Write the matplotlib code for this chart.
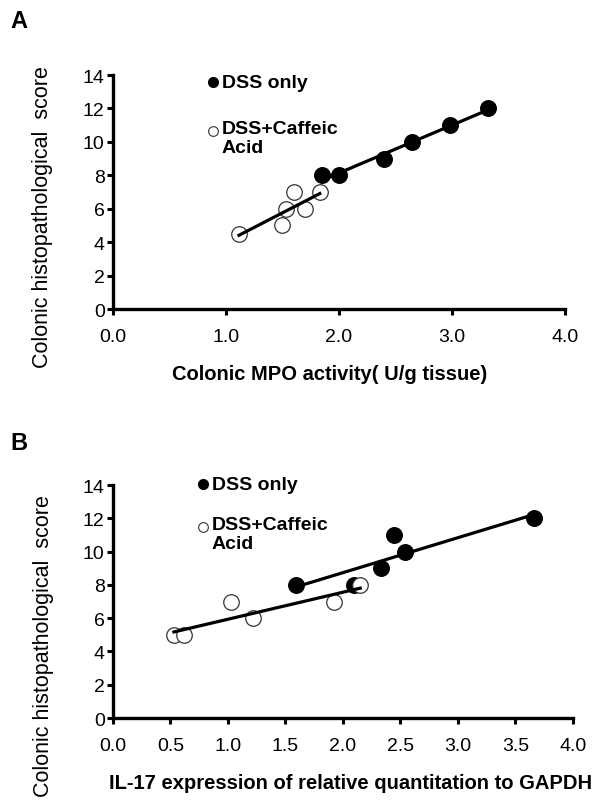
import numpy as np
import matplotlib
matplotlib.use("Agg")
import matplotlib.pyplot as plt

plt.rcParams['font.family'] = ['Liberation Sans', 'DejaVu Sans']

# Panel A: MPO activity vs histopathological score
mpo_dss = [1.85, 2.0, 2.4, 2.65, 2.98, 3.32]
score_a_dss = [8, 8, 9, 10, 11, 12]
mpo_caf = [1.115, 1.5, 1.53, 1.6, 1.7, 1.83]
score_a_caf = [4.5, 5, 6, 7, 6, 7]

# Panel B: IL-17 expression vs histopathological score
il17_dss = [1.59, 2.10, 2.33, 2.44, 2.54, 3.66]
score_b_dss = [8, 8, 9, 11, 10, 12]
il17_caf = [0.53, 0.62, 1.03, 1.22, 1.92, 2.15]
score_b_caf = [5, 5, 7, 6, 7, 8]

xticks_a = [0.0, 1.0, 2.0, 3.0, 4.0]
xticks_b = [0.0, 0.5, 1.0, 1.5, 2.0, 2.5, 3.0, 3.5, 4.0]
yticks = [0, 2, 4, 6, 8, 10, 12, 14]

ylab = 'Colonic histopathological  score'

fig = plt.figure(figsize=(6.02, 8.04), dpi=100)
axA = fig.add_axes([0.1877, 0.6144, 0.7508, 0.2910])
axB = fig.add_axes([0.1877, 0.1057, 0.7641, 0.2898])


def fit_line(ax, x, y):
    x = np.array(x)
    k, b = np.polyfit(x, y, 1)
    xs = np.array([x.min(), x.max()])
    ax.plot(xs, k * xs + b, color='black', lw=2.3, zorder=4)


def draw_panel(ax, xd, yd, xc, yc, xticks, xlabel, xlab_pos, ylab_pos, leg):
    ax.scatter(xd, yd, s=125, color='black', zorder=2, clip_on=False)
    ax.scatter(xc, yc, s=125, facecolor='white', edgecolor='#333333',
               linewidths=0.9, zorder=3, clip_on=False)
    fit_line(ax, xd, yd)
    fit_line(ax, xc, yc)

    ax.set_xlim(0, 4)
    ax.set_ylim(0, 14)
    ax.set_xticks(xticks)
    ax.set_xticklabels([f'{t:.1f}' for t in xticks])
    ax.set_yticks(yticks)
    for s in ['top', 'right']:
        ax.spines[s].set_visible(False)
    for s in ['left', 'bottom']:
        ax.spines[s].set_linewidth(2.4)
    ax.tick_params(direction='out', length=4, width=2.2, labelsize=14)
    ax.tick_params(axis='x', pad=10)
    ax.tick_params(axis='y', pad=2)

    ax.set_xlabel(xlabel, fontsize=14.5, fontweight='bold', va='center')
    ax.xaxis.set_label_coords(*xlab_pos)
    ax.set_ylabel(ylab, fontsize=15.5, va='center', ha='center')
    ax.yaxis.set_label_coords(*ylab_pos)

    # hand-drawn legend like the original
    mx, tx, y1, y2 = leg
    ax.plot([mx], [y1], 'o', ms=7, color='black', transform=ax.transAxes,
            clip_on=False)
    ax.text(tx, y1, 'DSS only', transform=ax.transAxes, fontsize=14,
            fontweight='bold', va='center')
    ax.plot([mx], [y2], 'o', ms=7, mfc='white', mec='#333333', mew=0.8,
            transform=ax.transAxes, clip_on=False)
    ax.text(tx, y2 + 0.05, 'DSS+Caffeic\nAcid', transform=ax.transAxes,
            fontsize=14, fontweight='bold', va='top', linespacing=1.2)


draw_panel(axA, mpo_dss, score_a_dss, mpo_caf, score_a_caf, xticks_a,
           'Colonic MPO activity( U/g tissue)', (0.48, -0.275), (-0.155, 0.397),
           (0.2206, 0.2405, 0.969, 0.759))
draw_panel(axB, il17_dss, score_b_dss, il17_caf, score_b_caf, xticks_b,
           'IL-17 expression of relative quantitation to GAPDH',
           (0.517, -0.275), (-0.152, 0.313),
           (0.195, 0.2146, 1.004, 0.818))

fig.text(10 / 602, 1 - 10 / 804, 'A', fontsize=17, fontweight='bold',
         ha='left', va='top')
fig.text(10 / 602, 1 - 432 / 804, 'B', fontsize=17, fontweight='bold',
         ha='left', va='top')

fig.savefig('out.png', dpi=100)
